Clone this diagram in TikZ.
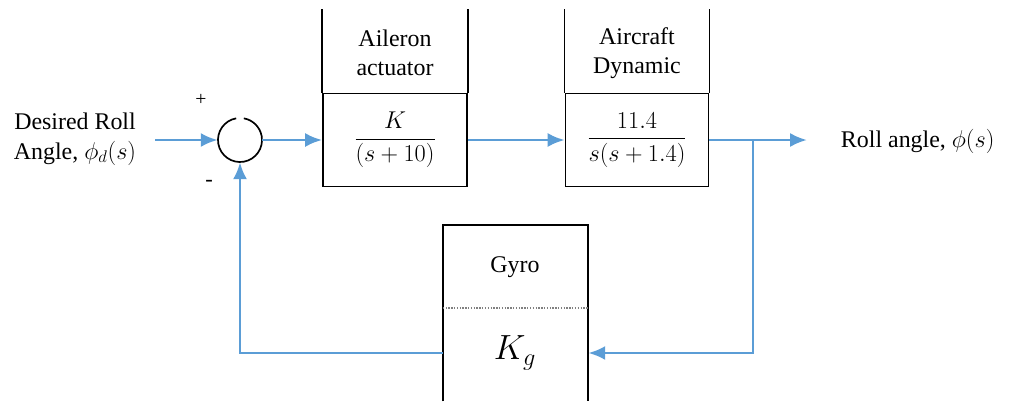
\documentclass[tikz,border=0pt]{standalone}
\usepackage{amsmath}
\usepackage{fontspec}
\setmainfont{Liberation Serif}
\usetikzlibrary{arrows.meta,positioning}
\definecolor{sigblue}{RGB}{91,157,214}

\tikzset{
  blk/.style={draw,line width=1.3pt,minimum width=3.6cm,minimum height=2.325cm,inner sep=0pt},
  sig/.style={sigblue,line width=2pt,-{Latex[length=12pt,width=10pt]}},
  lbl/.style={font=\fontsize{17}{21}\selectfont,align=center},
}

\begin{document}
\begin{tikzpicture}[x=0.025cm,y=-0.025cm]
\useasboundingbox (0,0) rectangle (1010,401);
% forward path
\node[lbl] (ref) at (75,139) {Desired Roll\\Angle, $\phi_d(s)$};
\node[circle,minimum size=1.1cm,inner sep=0pt] (sum) at (240,140) {};
\draw[line width=1.2pt] ([shift={(100:0.55cm)}]sum.center) arc[start angle=100,end angle=440,radius=0.55cm];
\node[font=\fontsize{14}{16}\selectfont] (plus) at (201,100) {+};
\node[font=\fontsize{16}{18}\selectfont] (minus) at (209,183) {-};

\node[blk,font=\fontsize{17}{21}\selectfont] (act) at (395,140) {$\dfrac{K}{(s+10)}$};
\node[lbl] (acttxt) at (395,53) {Aileron\\actuator};
\draw[line width=1.3pt] (act.north west) -- ++(0,-84) (act.north east) -- ++(0,-84);

\node[blk,minimum width=3.575cm,font=\fontsize{17}{21}\selectfont] (dyn) at (637,140) {$\dfrac{11.4}{s(s+1.4)}$};
\node[lbl] (dyntxt) at (637,53) {Aircraft\\Dynamic};
\draw[line width=1.3pt] (dyn.north west) -- ++(0,-84) (dyn.north east) -- ++(0,-84);

\coordinate (in) at (155,140);
\coordinate (br) at (753,140);
\coordinate (outend) at (807,140);
\node[lbl,anchor=west] (out) at (836,141) {Roll angle, $\phi(s)$};

% feedback block
\node[minimum width=3.625cm,minimum height=4.4cm] (gyro) at (515.5,313) {};
\draw[line width=1.3pt] (gyro.south west) |- (gyro.north east) -- (gyro.south east);
\coordinate (dv) at (0,308);
\draw[gray,densely dotted,line width=1pt] (gyro.west |- dv) -- (gyro.east |- dv);
\node[lbl] (gyrotxt) at (515,267) {Gyro};
\node[font=\fontsize{25}{28}\selectfont] (kg) at (515,353) {$K_g$};

% signals
\draw[sig] (in) -- (sum.west);
\draw[sig] (sum.east) -- (act.west);
\draw[sig] (act.east) -- (dyn.west);
\draw[sig] (dyn.east) -- (outend);
\draw[sig] (br) |- (gyro.east |- kg);
\draw[sig] (gyro.west |- kg) -| (sum.south);
\end{tikzpicture}
\end{document}
